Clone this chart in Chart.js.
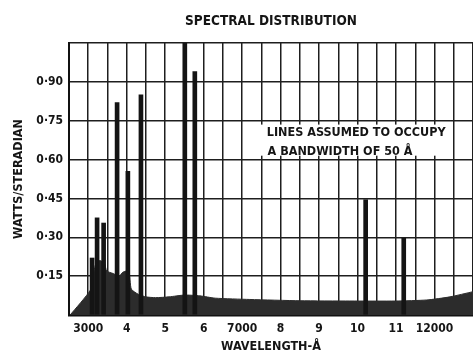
<!DOCTYPE html>
<html>
<head>
<meta charset="utf-8">
<script src="https://cdn.jsdelivr.net/npm/chart.js@4/dist/chart.umd.min.js"></script>
<style>
	html, body { margin: 0; padding: 0; background: #fff; }
	#wrap { width: 473px; height: 354px; }
</style>
</head>
<body>
<div id="wrap"><canvas id="spectrumChart"></canvas></div>
<script>
/* -------------------- data -------------------- */

// continuum (wavelength in Å, watts/steradian)
var contWavelengths = [ 2530, 3050, 3130, 3200, 3300, 3420, 3480, 3650, 3800, 3900, 4050, 4120, 4300, 4500, 4750, 5100, 5500, 5900, 6300, 7200, 8500, 9800, 11000, 11800, 12400, 13000 ];
var contValues      = [ 0,    0.095, 0.15, 0.20, 0.21, 0.20, 0.17, 0.16, 0.15, 0.165, 0.17, 0.10, 0.08, 0.07, 0.067, 0.07, 0.077, 0.074, 0.065, 0.06, 0.055, 0.054, 0.054, 0.058, 0.07, 0.09 ];

// emission lines
var lineWavelengths = [ 3100, 3230, 3400, 3750, 4030, 4370, 5510, 5770, 10210, 11200 ];
var lineValues      = [ 0.22, 0.375, 0.355, 0.82, 0.555, 0.85, 1.10, 0.94, 0.445, 0.297 ];

// tick labels
var xTickValues = [ 3000, 4000, 5000, 6000, 7000, 8000, 9000, 10000, 11000, 12000 ];
var xTickLabels = [ '3000', '4', '5', '6', '7000', '8', '9', '10', '11', '12000' ];
var yTickValues = [ 0.15, 0.30, 0.45, 0.60, 0.75, 0.90 ];
var yTickLabels = [ '0·15', '0·30', '0·45', '0·60', '0·75', '0·90' ];

var noteLines = [ 'LINES ASSUMED TO OCCUPY', 'A BANDWIDTH OF 50 Å' ];

/* -------------------- chart -------------------- */

var FONT = "'DejaVu Sans Condensed', 'DejaVu Sans', sans-serif";
Chart.defaults.font.family = FONT;
Chart.defaults.font.weight = 'bold';
Chart.defaults.color = '#151515';

function toPairs(xs, ys) {
	return xs.map(function (x, i) { return { x: x, y: ys[i] }; });
}

// title and the note box, drawn on the canvas
var notesPlugin = {
	id: 'notes',
	afterDraw: function (chart) {
		var ctx = chart.ctx, area = chart.chartArea;
		var xs = chart.scales.x, ys = chart.scales.y;
		ctx.save();
		ctx.fillStyle = '#151515';
		ctx.textBaseline = 'middle';

		ctx.font = 'bold 13.5px ' + FONT;
		ctx.textAlign = 'center';
		ctx.fillText('SPECTRAL DISTRIBUTION', (area.left + area.right) / 2, 21);

		var bx = xs.getPixelForValue(7450), by = ys.getPixelForValue(0.735);
		ctx.fillStyle = '#fff';
		ctx.fillRect(bx, by, xs.getPixelForValue(12400) - bx, ys.getPixelForValue(0.615) - by);

		ctx.fillStyle = '#151515';
		ctx.font = 'bold 12.5px ' + FONT;
		ctx.textAlign = 'left';
		ctx.fillText(noteLines[0], xs.getPixelForValue(7640), ys.getPixelForValue(0.705));
		ctx.fillText(noteLines[1], xs.getPixelForValue(7660), ys.getPixelForValue(0.632));
		ctx.restore();
	}
};

var ctx1 = document.getElementById('spectrumChart').getContext('2d');

var spectrumChart = new Chart(ctx1, {
	type: 'line',
	data: {
		datasets: [{
			type: 'bar',
			label: 'Lines',
			data: toPairs(lineWavelengths, lineValues),
			backgroundColor: '#141414',
			borderWidth: 0,
			barThickness: 4,
			grouped: false,
			order: 1
		}, {
			label: 'Continuum',
			data: toPairs(contWavelengths, contValues),
			borderColor: '#2c2c2c',
			backgroundColor: '#2c2c2c',
			borderWidth: 1,
			fill: 'origin',
			pointRadius: 0,
			tension: 0.2,
			order: 2
		}]
	},
	options: {
		responsive: true,
		maintainAspectRatio: false,
		animation: false,
		events: [],
		layout: {
			padding: { left: 0, right: 0, top: 43, bottom: 0 }
		},
		plugins: {
			legend: { display: false },
			tooltip: { enabled: false }
		},
		scales: {
			x: {
				type: 'linear',
				min: 2500,
				max: 13000,
				offset: false,
				grid: { color: '#1e1e1e', lineWidth: 1.5, drawTicks: false, offset: false },
				border: { color: '#111', width: 2.5 },
				ticks: {
					stepSize: 500,
					autoSkip: false,
					maxRotation: 0,
					padding: 7,
					font: { size: 12 },
					callback: function (v) {
						var i = xTickValues.indexOf(v);
						return i >= 0 ? xTickLabels[i] : '';
					}
				},
				title: {
					display: true,
					text: 'WAVELENGTH-Å',
					font: { size: 12.5 },
					padding: { top: 0, bottom: 0 }
				},
				afterFit: function (s) {
					s.height = 39;
					s.paddingLeft = 0;
					s.paddingRight = 0;
				}
			},
			y: {
				min: 0,
				max: 1.05,
				grid: { color: '#1e1e1e', lineWidth: 1.5, drawTicks: false },
				border: { color: '#111', width: 2 },
				ticks: {
					stepSize: 0.15,
					padding: 6,
					font: { size: 12 },
					callback: function (v) {
						for (var i = 0; i < yTickValues.length; i++) {
							if (Math.abs(yTickValues[i] - v) < 1e-6) return yTickLabels[i];
						}
						return '';
					}
				},
				title: {
					display: true,
					text: 'WATTS/STERADIAN',
					font: { size: 12.5 },
					padding: { top: 11, bottom: 0 }
				},
				afterFit: function (s) { s.width = 69; }
			}
		}
	},
	plugins: [ notesPlugin ]
});
</script>
</body>
</html>
